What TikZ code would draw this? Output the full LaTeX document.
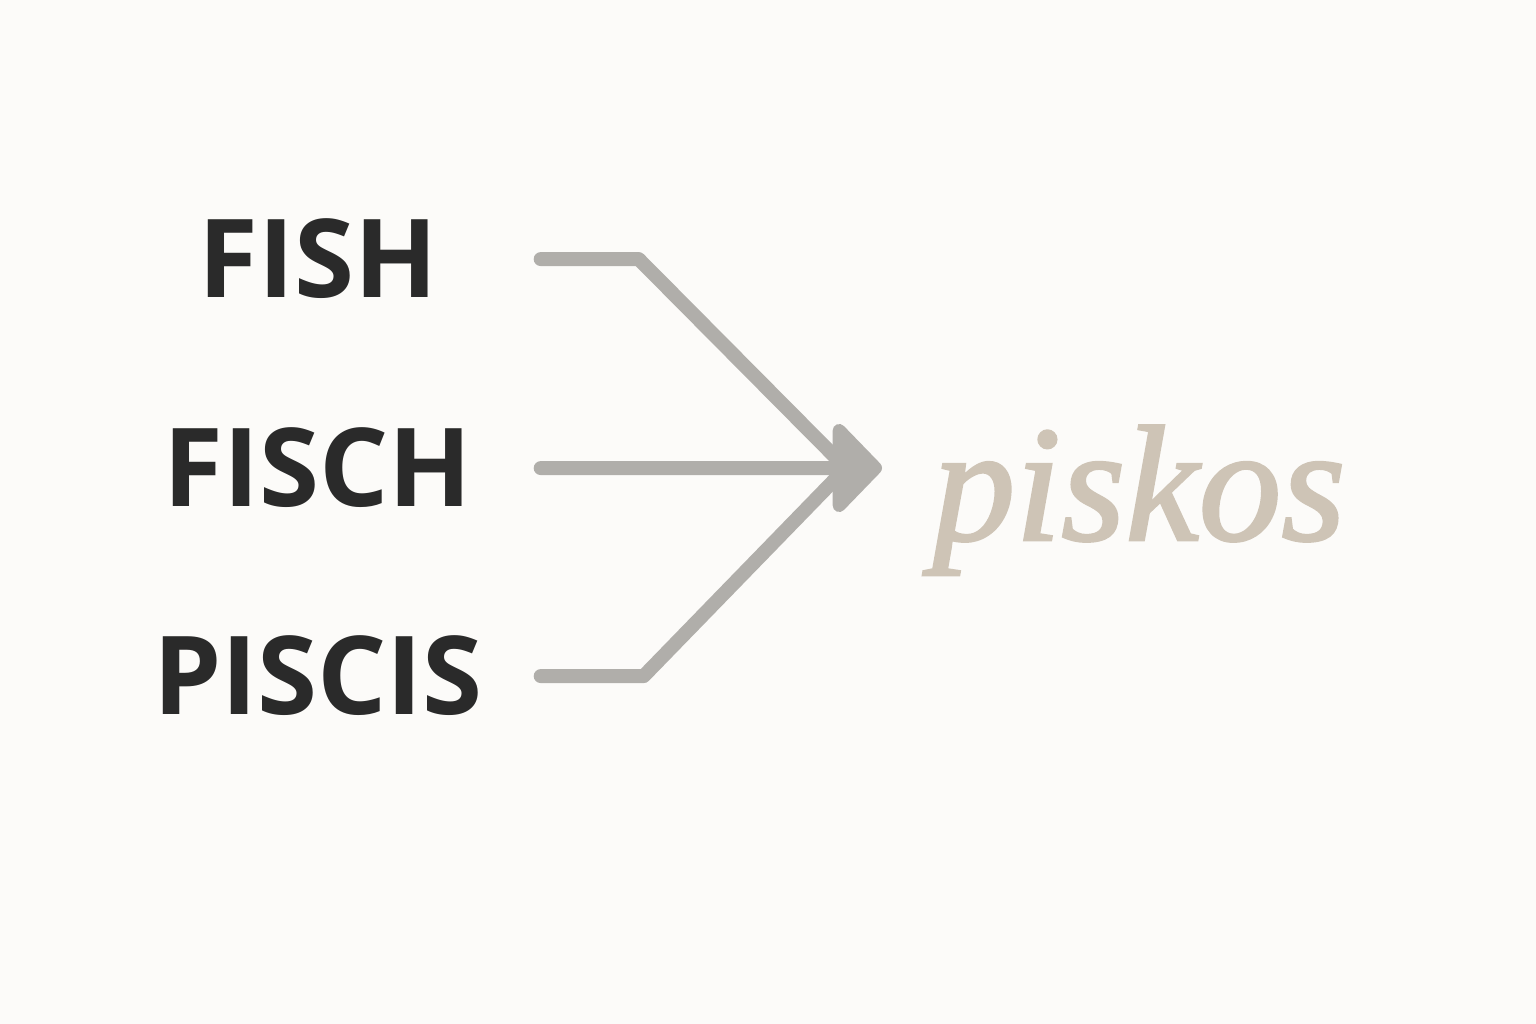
\documentclass[tikz,border=0pt]{standalone}
\usepackage{fontspec}
\setmainfont{Liberation Serif}
\newfontfamily\wordfont{Open Sans}
\newfontfamily\rootfont[FakeBold=1.6]{Liberation Serif}
\usepackage{tikz}
\usetikzlibrary{arrows.meta, positioning, calc}
\definecolor{paper}{RGB}{252,251,249}
\definecolor{ink}{RGB}{42,42,42}
\definecolor{linegray}{RGB}{176,174,170}
\definecolor{sand}{RGB}{206,196,182}

\begin{document}
\begin{tikzpicture}[
    x=0.1mm, y=-0.1mm,
    word/.style={inner sep=0pt, text width=44.4mm, align=center, text=ink, font=\wordfont\bfseries\fontsize{31}{36}\selectfont},
    line/.style={draw=linegray, line width=1.4mm, line cap=round, line join=round},
    arrow/.style={line, -{Triangle[round, length=5.2mm, width=10.4mm]}}
]
    \fill[paper] (0,0) rectangle (1536,1024);
    \useasboundingbox (0,0) rectangle (1536,1024);

    \node[word, anchor=base] (fish) at (318,298) {FISH};
    \node[word, anchor=base] (fisch) at (318,507) {FISCH};
    \node[word, anchor=base] (piscis) at (318,715) {PISCIS};

    \coordinate (join) at (846,468);
    \coordinate (tip) at (882,468);

    \draw[line] (fish.east) -- ++(98,0) -- (join);
    \draw[line] (piscis.east) -- ++(103,0) -- (join);
    \draw[arrow] (fisch.east) -- (tip);

    \node[inner sep=0pt, text=sand, font=\rootfont\itshape\fontsize{47}{56}\selectfont, right=5mm of tip, anchor=base west, yshift=-7.2mm] (piskos) {piskos};
\end{tikzpicture}
\end{document}
